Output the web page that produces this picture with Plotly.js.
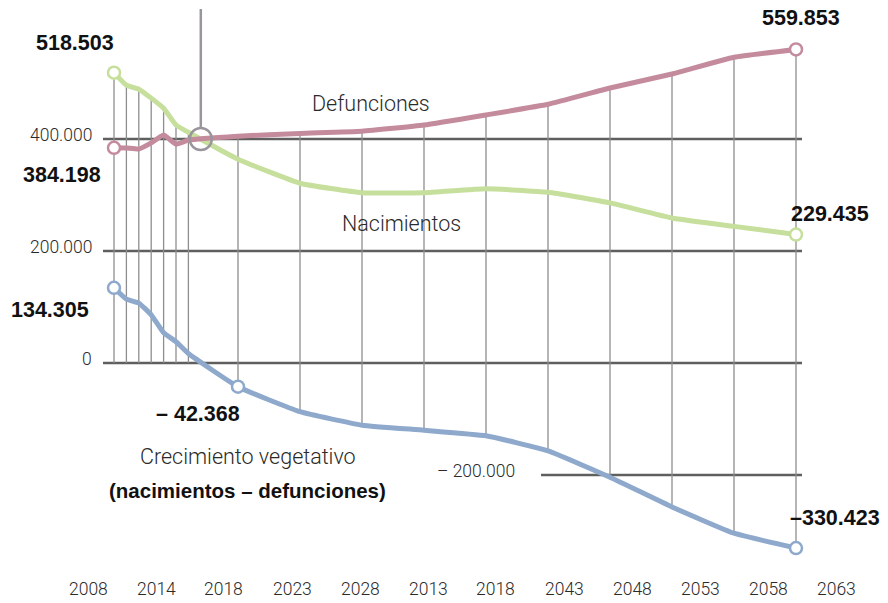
<!DOCTYPE html>
<html>
<head>
<meta charset="utf-8">
<script src="https://cdn.plot.ly/plotly-3.0.1.min.js"></script>
<style>
  html, body { margin: 0; padding: 0; background: #ffffff; }
  #chart { width: 888px; height: 603px; }
</style>
</head>
<body>
<div id="chart"></div>
<script>
// ---- Data ----
const years = [2008, 2009, 2010, 2011, 2012, 2013, 2014, 2018, 2023, 2028, 2033, 2038, 2043, 2048, 2053, 2058, 2063];
const nacimientos = [518503, 496000, 489000, 473000, 455000, 425000, 412000, 364000, 321000, 304000, 304000, 311000, 305000, 286000, 259000, 244000, 229435];
const defunciones = [384198, 384000, 382000, 393000, 407000, 391000, 398000, 405000, 410000, 414000, 425000, 443000, 462000, 491000, 516000, 546000, 559853];
const crecimiento = [134305, 114000, 107000, 86000, 54000, 38000, 17000, -42368, -87000, -111000, -120000, -130000, -157000, -204000, -257000, -304000, -330423];

const crossYear = [2015];
const crossValue = [400000];

const gridValues = [400000, 200000, 0, -200000];
const yTickLabels = ["400.000", "200.000", "0", "\u2013 200.000"];
const xTickLabels = ["2008", "2014", "2018", "2023", "2028", "2013", "2018", "2043", "2048", "2053", "2058", "2063"];

// ---- Geometry helpers (pixel layout of the 888x603 canvas) ----
const W = 888, H = 603;
const pxPerYear = 12.4, x2008px = 114;
const pxPerUnit = 0.00056, zeroPx = 363;
const xFromPx = px => 2008 + (px - x2008px) / pxPerYear;
const yFromPx = py => (zeroPx - py) / pxPerUnit;
const px = v => v / W;
const py = v => 1 - v / H;

function fmt(v) {
  return Math.round(Math.abs(v)).toString().replace(/\B(?=(\d{3})+(?!\d))/g, ".");
}

const GREEN = "#c6df9c";
const PINK = "#c48b9d";
const BLUE = "#8ea9cc";
const GRID = "#5f5f5f";
const VERT = "#8e8e8e";
const CIRC = "#9a959c";

// vertical connector lines from the top series down to min(0, growth)
const vx = [], vy = [];
years.forEach((yr, i) => {
  vx.push(yr, yr, null);
  vy.push(Math.max(nacimientos[i], defunciones[i]), Math.min(0, crecimiento[i]), null);
});

const last = years.length - 1;
const pick = (arr, idx) => idx.map(i => arr[i]);
const endIdx = [0, last];
const growthIdx = [0, 7, last];

const traces = [
  { x: vx, y: vy, mode: "lines", line: { color: VERT, width: 1.3 }, hoverinfo: "skip" },
  { x: years, y: nacimientos, mode: "lines", line: { color: GREEN, width: 5, shape: "spline", smoothing: 0.4 } },
  { x: years, y: defunciones, mode: "lines", line: { color: PINK, width: 5, shape: "spline", smoothing: 0.4 } },
  { x: years, y: crecimiento, mode: "lines", line: { color: BLUE, width: 5, shape: "spline", smoothing: 0.4 } },
  { x: pick(years, endIdx), y: pick(nacimientos, endIdx), mode: "markers",
    marker: { size: 12, color: "#ffffff", line: { color: GREEN, width: 2.5 } } },
  { x: pick(years, endIdx), y: pick(defunciones, endIdx), mode: "markers",
    marker: { size: 12, color: "#ffffff", line: { color: PINK, width: 2.5 } } },
  { x: pick(years, growthIdx), y: pick(crecimiento, growthIdx), mode: "markers",
    marker: { size: 12, color: "#ffffff", line: { color: BLUE, width: 2.5 } } },
  { x: [crossYear[0], crossYear[0]], y: [crossValue[0] + 21500, yFromPx(9)], mode: "lines",
    line: { color: CIRC, width: 2.5 } },
  { x: crossYear, y: crossValue, mode: "markers",
    marker: { size: 22, color: "rgba(0,0,0,0)", line: { color: CIRC, width: 2.5 } } }
];

// horizontal grid lines
const shapes = gridValues.map(v => ({
  type: "line", layer: "below", xref: "x", yref: "y",
  x0: xFromPx(v < 0 ? 541 : 103), x1: xFromPx(802), y0: v, y1: v,
  line: { color: GRID, width: 2.5 }
}));

const LIGHT = { family: "Roboto, 'Open Sans', sans-serif", size: 17.5, color: "#2a2a2a", weight: 300 };
const BOLD = { family: "'Liberation Sans', Arial, sans-serif", size: 21.5, color: "#111111", weight: 700 };

const ann = [];
function addText(text, xpx, ypx, font, xanchor) {
  ann.push({ text: text, xref: "paper", yref: "paper", x: px(xpx), y: py(ypx),
    xanchor: xanchor || "center", yanchor: "middle", showarrow: false, font: font });
}

// y tick labels
const yTickRight = [94, 94, 94, 517];
gridValues.forEach((v, i) => {
  const ypos = zeroPx - v * pxPerUnit - 4;
  addText(yTickLabels[i], yTickRight[i], ypos, LIGHT, "right");
});

// x tick labels
xTickLabels.forEach((t, i) => addText(t, 88 + 68 * i, 589, LIGHT));

// value labels
addText(fmt(nacimientos[0]), 75, 43, BOLD);
addText(fmt(defunciones[0]), 62, 175, BOLD);
addText(fmt(crecimiento[0]), 50, 310, BOLD);
addText("\u2013 " + fmt(crecimiento[7]), 198, 414, BOLD);
addText(fmt(defunciones[last]), 801, 18, BOLD);
addText(fmt(nacimientos[last]), 830, 214, BOLD);
addText("\u2013" + fmt(crecimiento[last]), 835, 518, BOLD);

// series names
const NAME = { family: "Roboto, 'Open Sans', sans-serif", size: 21.5, color: "#2a2a2a", weight: 300 };
addText("Defunciones", 371, 103, NAME);
addText("Nacimientos", 401, 223, NAME);
addText("Crecimiento vegetativo", 248, 456, NAME);
addText("(nacimientos \u2013 defunciones)", 248, 490, { family: "'Liberation Sans', Arial, sans-serif", size: 20.5, color: "#111111", weight: 700 });

const layout = {
  width: W, height: H,
  margin: { l: 0, r: 0, t: 0, b: 0, pad: 0 },
  paper_bgcolor: "#ffffff", plot_bgcolor: "#ffffff",
  showlegend: false,
  xaxis: { range: [xFromPx(0), xFromPx(W)], visible: false, fixedrange: true },
  yaxis: { range: [yFromPx(H), yFromPx(0)], visible: false, fixedrange: true },
  shapes: shapes,
  annotations: ann
};

Plotly.newPlot("chart", traces, layout, { staticPlot: true, displayModeBar: false });
</script>
</body>
</html>
